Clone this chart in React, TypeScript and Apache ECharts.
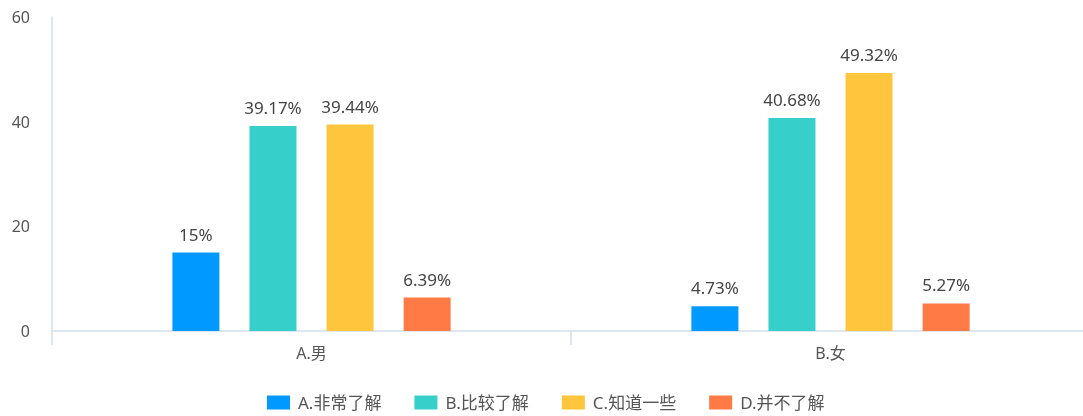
import React, { useEffect, useRef } from "react";
import * as echarts from "echarts";

const categories = ["A.男", "B.女"];
const seriesNames = ["A.非常了解", "B.比较了解", "C.知道一些", "D.并不了解"];
const seriesValues = [
  [15, 4.73],
  [39.17, 40.68],
  [39.44, 49.32],
  [6.39, 5.27],
];
const colors = ["#0099FF", "#36CFC9", "#FFC53D", "#FF7A45"];
const yTicks = { min: 0, max: 60, interval: 20 };

export default function App() {
  const ref = useRef<HTMLDivElement>(null);
  useEffect(() => {
    if (!ref.current) return;
    const chart = echarts.init(ref.current, undefined, { renderer: "svg" });
    const font = "'Noto Sans', 'Noto Sans CJK SC', sans-serif";
    chart.setOption({
      animation: false,
      textStyle: { fontFamily: font },
      grid: { left: 52, right: 0, top: 17, bottom: 85, containLabel: false },
      legend: {
        top: 389,
        left: 262,
        itemWidth: 23,
        itemHeight: 14,
        itemGap: 33,
        icon: "rect",
        textStyle: { fontSize: 17, color: "#555", fontFamily: font, padding: [0, 0, 0, 3] },
        data: seriesNames,
      },
      xAxis: {
        type: "category",
        data: categories,
        axisLine: { lineStyle: { color: "#D4DEEB", width: 1.5 } },
        axisTick: { show: true, length: 14, lineStyle: { color: "#D4DEEB", width: 1.5 } },
        axisLabel: { fontSize: 16, color: "#555", margin: 14, fontFamily: font },
      },
      yAxis: {
        type: "value",
        min: yTicks.min,
        max: yTicks.max,
        interval: yTicks.interval,
        axisLine: { show: true, lineStyle: { color: "#D4DEEB", width: 1.5 } },
        axisTick: { show: false },
        splitLine: { show: false },
        axisLabel: { fontSize: 16, color: "#555", margin: 22, fontFamily: font },
      },
      series: seriesNames.map((name, i) => ({
        name,
        type: "bar",
        data: seriesValues[i],
        barWidth: 47,
        barGap: "64%",
        itemStyle: { color: colors[i] },
        label: {
          show: true,
          position: "top",
          distance: 10,
          formatter: "{c}%",
          fontSize: 17,
          color: "#444",
          fontFamily: font,
        },
      })),
    });
    return () => chart.dispose();
  }, []);
  return (
    <div style={{ position: "fixed", left: 0, top: 0, width: 1083, height: 416, overflow: "hidden" }}>
      <div ref={ref} style={{ width: 1090, height: 416 }} />
    </div>
  );
}
